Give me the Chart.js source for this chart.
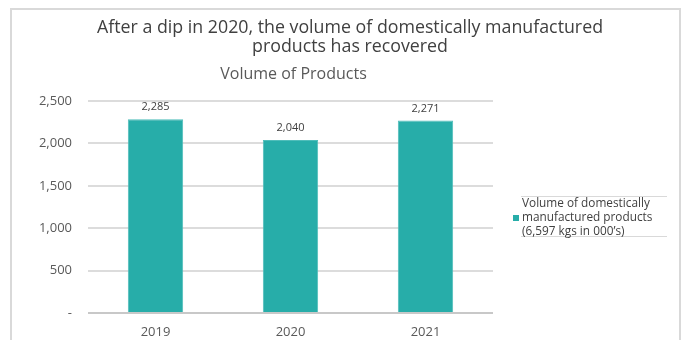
<!DOCTYPE html>
<html lang="en">
<head>
<meta charset="UTF-8">
<title>Volume of Products</title>
<script src="https://cdn.jsdelivr.net/npm/chart.js"></script>
<style>
    body { background: #fff; margin: 0; padding: 0; }
    #frame { position: absolute; left: 10px; top: 8px; width: 671px; height: 360px; border: 2px solid #d9d9d9; box-sizing: border-box; }
    #wrap { position: absolute; left: 0; top: 0; width: 687px; height: 340px; }
</style>
</head>
<body>
<div id="frame"></div>
<div id="wrap"><canvas id="chart"></canvas></div>
<script>
const years = ['2019', '2020', '2021'];
const volumes = [2285, 2040, 2271];
const yTicks = [0, 500, 1000, 1500, 2000, 2500];
const titleLines = ['After a dip in 2020, the volume of domestically manufactured', 'products has recovered'];
const subTitle = 'Volume of Products';
const legendLines = ['Volume of domestically', 'manufactured products', '(6,597 kgs in 000\u2019s)'];

const FONT = '"Open Sans", sans-serif';
const TEAL = '#27ada9';

function fmt(v) {
    return v === 0 ? '-' : v.toLocaleString('en-US');
}

// titles, bar values and the legend block
const extras = {
    id: 'extras',
    afterDraw(chart) {
        const ctx = chart.ctx;
        const area = chart.chartArea;
        ctx.save();
        ctx.textBaseline = 'middle';
        ctx.textAlign = 'center';
        ctx.fillStyle = '#404040';
        ctx.font = '17.8px ' + FONT;
        ctx.fillText(titleLines[0], 350, 28);
        ctx.fillText(titleLines[1], 350, 47);
        ctx.fillStyle = '#595959';
        ctx.font = '16px ' + FONT;
        ctx.fillText(subTitle, (area.left + area.right) / 2 + 3, 74);

        // value labels
        ctx.font = '11px ' + FONT;
        ctx.fillStyle = '#404040';
        chart.getDatasetMeta(0).data.forEach((bar, i) => {
            ctx.fillText(fmt(volumes[i]), bar.x, bar.y - 12);
        });

        // legend
        ctx.strokeStyle = '#d9d9d9';
        ctx.lineWidth = 1;
        ctx.beginPath();
        ctx.moveTo(521, 196.5); ctx.lineTo(667, 196.5);
        ctx.moveTo(521, 236.5); ctx.lineTo(667, 236.5);
        ctx.stroke();
        ctx.fillStyle = TEAL;
        ctx.fillRect(513, 215, 6, 6);
        ctx.fillStyle = '#404040';
        ctx.font = '11.8px ' + FONT;
        ctx.textAlign = 'left';
        legendLines.forEach((t, i) => ctx.fillText(t, 522, 204 + i * 14));
        ctx.restore();
    }
};

new Chart(document.getElementById('chart').getContext('2d'), {
    type: 'bar',
    data: {
        labels: years,
        datasets: [{
            label: legendLines.join(' '),
            data: volumes,
            backgroundColor: TEAL,
            borderColor: '#4fbdba',
            borderWidth: 1,
            categoryPercentage: 1,
            barPercentage: 0.41
        }]
    },
    options: {
        responsive: true,
        maintainAspectRatio: false,
        animation: false,
        layout: { padding: { left: 0, right: 194, top: 101, bottom: 0 } },
        plugins: {
            legend: { display: false },
            title: { display: false },
            tooltip: { enabled: false }
        },
        scales: {
            x: {
                afterFit: s => { s.height = 27; },
                grid: { display: false, drawTicks: false },
                border: { display: false },
                ticks: { color: '#595959', padding: 11, font: { family: FONT, size: 13 } }
            },
            y: {
                min: 0,
                max: 2500,
                afterFit: s => { s.width = 88; },
                afterBuildTicks: s => { s.ticks = yTicks.map(v => ({ value: v })); },
                border: { display: false },
                grid: {
                    drawTicks: false,
                    lineWidth: 2,
                    color: c => c.tick && c.tick.value === 0 ? '#c8c8c8' : '#dcdcdc'
                },
                ticks: {
                    color: '#595959',
                    padding: 16,
                    font: { family: FONT, size: 13 },
                    callback: v => fmt(v)
                }
            }
        }
    },
    plugins: [extras]
});
</script>
</body>
</html>
